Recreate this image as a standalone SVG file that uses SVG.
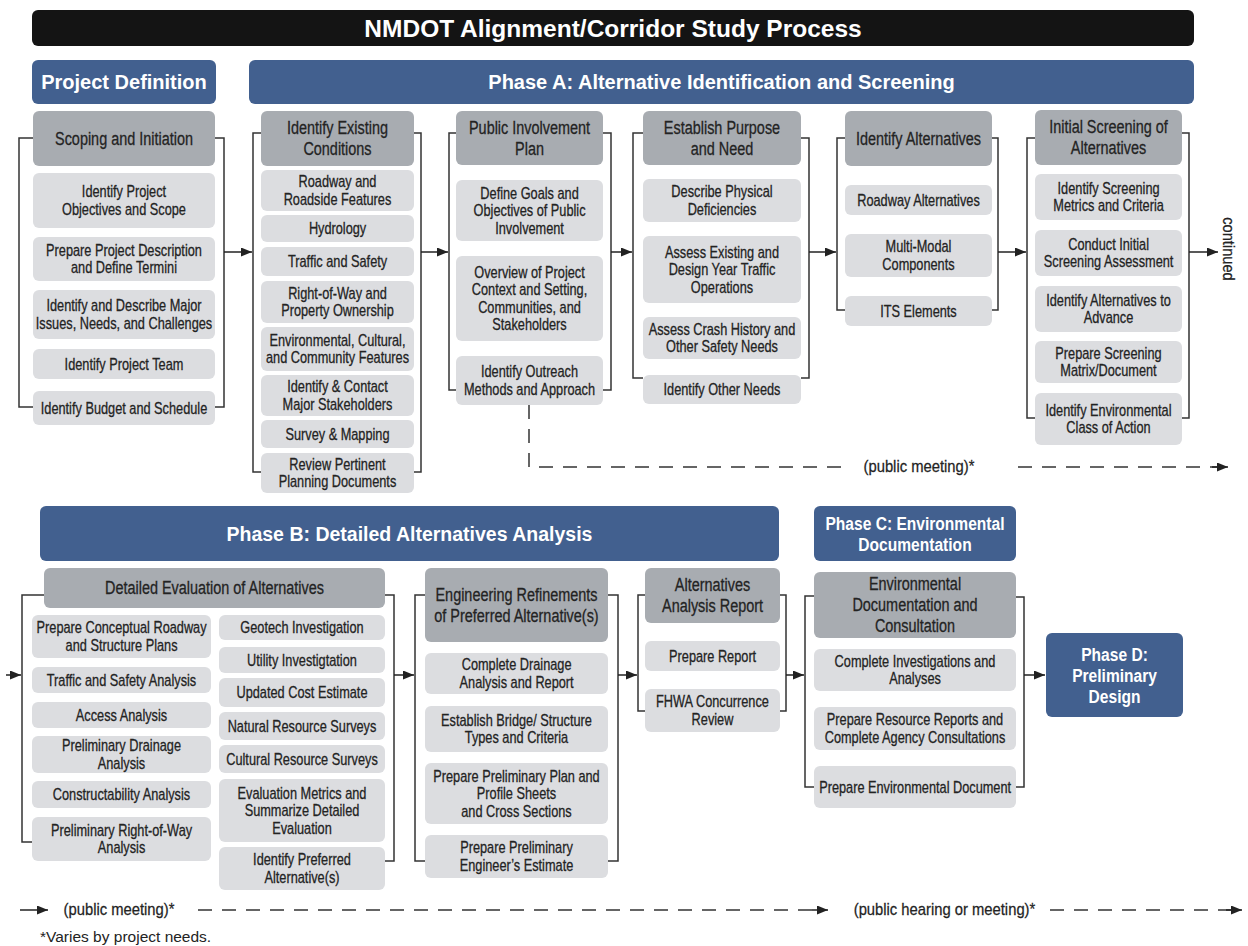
<svg xmlns="http://www.w3.org/2000/svg" width="1248" height="946" viewBox="0 0 1248 946">
<style>
.bar{fill:#141414}
.ph{fill:#42608f}
.h{fill:#a8acb1}
.i{fill:#dcdde0}
.tt{font-family:"Liberation Sans",Arial,sans-serif;font-weight:bold;fill:#fff;text-anchor:middle}
.tn{font-family:"Liberation Sans",Arial,sans-serif;font-weight:bold;fill:#fff;text-anchor:middle;transform-box:fill-box;transform-origin:center;transform:scaleX(0.82)}
.t{font-family:"Liberation Sans",Arial,sans-serif;font-size:17px;fill:#232323;stroke:#232323;stroke-width:0.3;text-anchor:middle;transform-box:fill-box;transform-origin:center;transform:scaleX(0.75)}
.ht{font-family:"Liberation Sans",Arial,sans-serif;font-size:19px;fill:#232323;stroke:#232323;stroke-width:0.3;text-anchor:middle;transform-box:fill-box;transform-origin:center;transform:scaleX(0.76)}
.lbl{font-family:"Liberation Sans",Arial,sans-serif;font-size:17px;fill:#232323;stroke:#232323;stroke-width:0.25;text-anchor:middle;transform-box:fill-box;transform-origin:center;transform:scaleX(0.87)}
.rot{font-family:"Liberation Sans",Arial,sans-serif;font-size:17px;fill:#232323;stroke:#232323;stroke-width:0.25;text-anchor:middle}
.br{fill:none;stroke:#333;stroke-width:1.5}
.ar{fill:none;stroke:#222;stroke-width:1.5;marker-end:url(#ah)}
.ds{fill:none;stroke:#333;stroke-width:1.5;stroke-dasharray:14 10}
</style>
<defs>
<marker id="ah" markerUnits="userSpaceOnUse" markerWidth="12" markerHeight="9" refX="11" refY="4.5" orient="auto">
<path d="M0,0 L11,4.5 L0,9 z" fill="#222"/>
</marker>
</defs>

<g id="title">
<rect class="bar" x="32" y="10" width="1162" height="36" rx="6"/>
<text class="tt" x="613" y="37" font-size="24.5">NMDOT Alignment/Corridor Study Process</text>
</g>

<g id="project-definition">
<rect class="ph" x="32" y="60" width="184" height="44" rx="6"/>
<text class="tt" x="124" y="89" font-size="20">Project Definition</text>
</g>
<g id="phase-a">
<rect class="ph" x="249" y="60" width="945" height="44" rx="6"/>
<text class="tt" x="721.5" y="89" font-size="20">Phase A: Alternative Identification and Screening</text>
</g>

<g id="scoping">
<rect class="h" x="33" y="111" width="182" height="55" rx="6"/>
<text class="ht" x="124" y="145">Scoping and Initiation</text>
<rect class="i" x="33" y="173" width="182" height="55" rx="6"/>
<text class="t" x="124" y="197.4">Identify Project<tspan x="124" dy="17.5">Objectives and Scope</tspan></text>
<rect class="i" x="33" y="237" width="182" height="44" rx="6"/>
<text class="t" x="124" y="255.9">Prepare Project Description<tspan x="124" dy="17.5">and Define Termini</tspan></text>
<rect class="i" x="33" y="290" width="182" height="49" rx="6"/>
<text class="t" x="124" y="311.4">Identify and Describe Major<tspan x="124" dy="17.5">Issues, Needs, and Challenges</tspan></text>
<rect class="i" x="33" y="349" width="182" height="30" rx="6"/>
<text class="t" x="124" y="369.6">Identify Project Team</text>
<rect class="i" x="33" y="391" width="182" height="34" rx="6"/>
<text class="t" x="124" y="413.6">Identify Budget and Schedule</text>
</g>

<g id="existing-conditions">
<rect class="h" x="261" y="111" width="153" height="55" rx="6"/>
<text class="ht" x="337.5" y="134.5">Identify Existing<tspan x="337.5" dy="21">Conditions</tspan></text>
<rect class="i" x="261" y="170" width="153" height="41" rx="6"/>
<text class="t" x="337.5" y="187.4">Roadway and<tspan x="337.5" dy="17.5">Roadside Features</tspan></text>
<rect class="i" x="261" y="215" width="153" height="27" rx="6"/>
<text class="t" x="337.5" y="234.1">Hydrology</text>
<rect class="i" x="261" y="247" width="153" height="29" rx="6"/>
<text class="t" x="337.5" y="267.1">Traffic and Safety</text>
<rect class="i" x="261" y="281" width="153" height="42" rx="6"/>
<text class="t" x="337.5" y="298.9">Right-of-Way and<tspan x="337.5" dy="17.5">Property Ownership</tspan></text>
<rect class="i" x="261" y="327" width="153" height="44" rx="6"/>
<text class="t" x="337.5" y="345.9">Environmental, Cultural,<tspan x="337.5" dy="17.5">and Community Features</tspan></text>
<rect class="i" x="261" y="375" width="153" height="41" rx="6"/>
<text class="t" x="337.5" y="392.4">Identify &amp; Contact<tspan x="337.5" dy="17.5">Major Stakeholders</tspan></text>
<rect class="i" x="261" y="420" width="153" height="28" rx="6"/>
<text class="t" x="337.5" y="439.6">Survey &amp; Mapping</text>
<rect class="i" x="261" y="453" width="153" height="40" rx="6"/>
<text class="t" x="337.5" y="469.9">Review Pertinent<tspan x="337.5" dy="17.5">Planning Documents</tspan></text>
</g>

<g id="public-involvement">
<rect class="h" x="456" y="111" width="147" height="54" rx="6"/>
<text class="ht" x="529.5" y="134">Public Involvement<tspan x="529.5" dy="21">Plan</tspan></text>
<rect class="i" x="456" y="180" width="147" height="61" rx="6"/>
<text class="t" x="529.5" y="198.6">Define Goals and<tspan x="529.5" dy="17.5">Objectives of Public</tspan><tspan x="529.5" dy="17.5">Involvement</tspan></text>
<rect class="i" x="456" y="256" width="147" height="85" rx="6"/>
<text class="t" x="529.5" y="277.9">Overview of Project<tspan x="529.5" dy="17.5">Context and Setting,</tspan><tspan x="529.5" dy="17.5">Communities, and</tspan><tspan x="529.5" dy="17.5">Stakeholders</tspan></text>
<rect class="i" x="456" y="356" width="147" height="49" rx="6"/>
<text class="t" x="529.5" y="377.4">Identify Outreach<tspan x="529.5" dy="17.5">Methods and Approach</tspan></text>
</g>

<g id="purpose-need">
<rect class="h" x="643" y="111" width="158" height="54" rx="6"/>
<text class="ht" x="722" y="134">Establish Purpose<tspan x="722" dy="21">and Need</tspan></text>
<rect class="i" x="643" y="179" width="158" height="43" rx="6"/>
<text class="t" x="722" y="197.4">Describe Physical<tspan x="722" dy="17.5">Deficiencies</tspan></text>
<rect class="i" x="643" y="236" width="158" height="67" rx="6"/>
<text class="t" x="722" y="257.6">Assess Existing and<tspan x="722" dy="17.5">Design Year Traffic</tspan><tspan x="722" dy="17.5">Operations</tspan></text>
<rect class="i" x="643" y="317" width="158" height="42" rx="6"/>
<text class="t" x="722" y="334.9">Assess Crash History and<tspan x="722" dy="17.5">Other Safety Needs</tspan></text>
<rect class="i" x="643" y="375" width="158" height="29" rx="6"/>
<text class="t" x="722" y="395.1">Identify Other Needs</text>
</g>

<g id="identify-alternatives">
<rect class="h" x="845" y="111" width="147" height="55" rx="6"/>
<text class="ht" x="918.5" y="145">Identify Alternatives</text>
<rect class="i" x="845" y="185" width="147" height="30" rx="6"/>
<text class="t" x="918.5" y="205.6">Roadway Alternatives</text>
<rect class="i" x="845" y="234" width="147" height="43" rx="6"/>
<text class="t" x="918.5" y="252.4">Multi-Modal<tspan x="918.5" dy="17.5">Components</tspan></text>
<rect class="i" x="845" y="296" width="147" height="30" rx="6"/>
<text class="t" x="918.5" y="316.6">ITS Elements</text>
</g>

<g id="initial-screening">
<rect class="h" x="1035" y="110" width="147" height="55" rx="6"/>
<text class="ht" x="1108.5" y="133.5">Initial Screening of<tspan x="1108.5" dy="21">Alternatives</tspan></text>
<rect class="i" x="1035" y="174" width="147" height="46" rx="6"/>
<text class="t" x="1108.5" y="193.9">Identify Screening<tspan x="1108.5" dy="17.5">Metrics and Criteria</tspan></text>
<rect class="i" x="1035" y="230" width="147" height="46" rx="6"/>
<text class="t" x="1108.5" y="249.9">Conduct Initial<tspan x="1108.5" dy="17.5">Screening Assessment</tspan></text>
<rect class="i" x="1035" y="286" width="147" height="46" rx="6"/>
<text class="t" x="1108.5" y="305.9">Identify Alternatives to<tspan x="1108.5" dy="17.5">Advance</tspan></text>
<rect class="i" x="1035" y="341" width="147" height="42" rx="6"/>
<text class="t" x="1108.5" y="358.9">Prepare Screening<tspan x="1108.5" dy="17.5">Matrix/Document</tspan></text>
<rect class="i" x="1035" y="393" width="147" height="52" rx="6"/>
<text class="t" x="1108.5" y="415.9">Identify Environmental<tspan x="1108.5" dy="17.5">Class of Action</tspan></text>
</g>

<g id="continued">
<text class="rot" transform="translate(1223,249) rotate(90) scale(0.86,1)">continued</text>
</g>

<g id="phase-b">
<rect class="ph" x="40" y="506" width="739" height="55" rx="6"/>
<text class="tt" x="409.5" y="540.5" font-size="19.5">Phase B: Detailed Alternatives Analysis</text>
</g>
<g id="phase-c">
<rect class="ph" x="814" y="506" width="202" height="55" rx="6"/>
<text class="tn" x="915" y="530" font-size="19">Phase C: Environmental<tspan x="915" dy="21">Documentation</tspan></text>
</g>

<g id="detailed-evaluation">
<rect class="h" x="44" y="568" width="341" height="40" rx="6"/>
<text class="ht" x="214.5" y="594.5">Detailed Evaluation of Alternatives</text>
<rect class="i" x="32" y="615" width="179" height="43" rx="6"/>
<text class="t" x="121.5" y="633.4">Prepare Conceptual Roadway<tspan x="121.5" dy="17.5">and Structure Plans</tspan></text>
<rect class="i" x="32" y="667" width="179" height="26" rx="6"/>
<text class="t" x="121.5" y="685.6">Traffic and Safety Analysis</text>
<rect class="i" x="32" y="702" width="179" height="26" rx="6"/>
<text class="t" x="121.5" y="720.6">Access Analysis</text>
<rect class="i" x="32" y="736" width="179" height="37" rx="6"/>
<text class="t" x="121.5" y="751.4">Preliminary Drainage<tspan x="121.5" dy="17.5">Analysis</tspan></text>
<rect class="i" x="32" y="781" width="179" height="27" rx="6"/>
<text class="t" x="121.5" y="800.1">Constructability Analysis</text>
<rect class="i" x="32" y="817" width="179" height="44" rx="6"/>
<text class="t" x="121.5" y="835.9">Preliminary Right-of-Way<tspan x="121.5" dy="17.5">Analysis</tspan></text>
<rect class="i" x="219" y="615" width="166" height="25" rx="6"/>
<text class="t" x="302" y="633.1">Geotech Investigation</text>
<rect class="i" x="219" y="647" width="166" height="26" rx="6"/>
<text class="t" x="302" y="665.6">Utility Investigtation</text>
<rect class="i" x="219" y="678" width="166" height="29" rx="6"/>
<text class="t" x="302" y="698.1">Updated Cost Estimate</text>
<rect class="i" x="219" y="712" width="166" height="28" rx="6"/>
<text class="t" x="302" y="731.6">Natural Resource Surveys</text>
<rect class="i" x="219" y="745" width="166" height="28" rx="6"/>
<text class="t" x="302" y="764.6">Cultural Resource Surveys</text>
<rect class="i" x="219" y="779" width="166" height="63" rx="6"/>
<text class="t" x="302" y="798.6">Evaluation Metrics and<tspan x="302" dy="17.5">Summarize Detailed</tspan><tspan x="302" dy="17.5">Evaluation</tspan></text>
<rect class="i" x="219" y="847" width="166" height="43" rx="6"/>
<text class="t" x="302" y="865.4">Identify Preferred<tspan x="302" dy="17.5">Alternative(s)</tspan></text>
</g>

<g id="engineering-refinements">
<rect class="h" x="425" y="568" width="183" height="74" rx="6"/>
<text class="ht" x="516.5" y="601">Engineering Refinements<tspan x="516.5" dy="21">of Preferred Alternative(s)</tspan></text>
<rect class="i" x="425" y="653" width="183" height="41" rx="6"/>
<text class="t" x="516.5" y="670.4">Complete Drainage<tspan x="516.5" dy="17.5">Analysis and Report</tspan></text>
<rect class="i" x="425" y="706" width="183" height="46" rx="6"/>
<text class="t" x="516.5" y="725.9">Establish Bridge/ Structure<tspan x="516.5" dy="17.5">Types and Criteria</tspan></text>
<rect class="i" x="425" y="763" width="183" height="61" rx="6"/>
<text class="t" x="516.5" y="781.6">Prepare Preliminary Plan and<tspan x="516.5" dy="17.5">Profile Sheets</tspan><tspan x="516.5" dy="17.5">and Cross Sections</tspan></text>
<rect class="i" x="425" y="835" width="183" height="43" rx="6"/>
<text class="t" x="516.5" y="853.4">Prepare Preliminary<tspan x="516.5" dy="17.5">Engineer’s Estimate</tspan></text>
</g>

<g id="alternatives-report">
<rect class="h" x="645" y="568" width="135" height="55" rx="6"/>
<text class="ht" x="712.5" y="591.5">Alternatives<tspan x="712.5" dy="21">Analysis Report</tspan></text>
<rect class="i" x="645" y="641" width="135" height="30" rx="6"/>
<text class="t" x="712.5" y="661.6">Prepare Report</text>
<rect class="i" x="645" y="689" width="135" height="43" rx="6"/>
<text class="t" x="712.5" y="707.4">FHWA Concurrence<tspan x="712.5" dy="17.5">Review</tspan></text>
</g>

<g id="environmental-documentation">
<rect class="h" x="814" y="572" width="202" height="66" rx="6"/>
<text class="ht" x="915" y="590.5">Environmental<tspan x="915" dy="21">Documentation and</tspan><tspan x="915" dy="21">Consultation</tspan></text>
<rect class="i" x="814" y="649" width="202" height="42" rx="6"/>
<text class="t" x="915" y="666.9">Complete Investigations and<tspan x="915" dy="17.5">Analyses</tspan></text>
<rect class="i" x="814" y="707" width="202" height="43" rx="6"/>
<text class="t" x="915" y="725.4">Prepare Resource Reports and<tspan x="915" dy="17.5">Complete Agency Consultations</tspan></text>
<rect class="i" x="814" y="766" width="202" height="42" rx="6"/>
<text class="t" x="915" y="792.6">Prepare Environmental Document</text>
</g>

<g id="phase-d">
<rect class="ph" x="1046" y="633" width="137" height="84" rx="6"/>
<text class="tn" x="1114.5" y="661" font-size="19">Phase D:<tspan x="1114.5" dy="21">Preliminary</tspan><tspan x="1114.5" dy="21">Design</tspan></text>
</g>

<g id="connectors">
<path class="br" d="M33,138 H19 V407 H33"/>
<path class="br" d="M215,138 H224 V407 H215"/>
<path class="br" d="M261,133 H253 V472 H261"/>
<path class="br" d="M414,133 H421 V472 H414"/>
<path class="br" d="M456,133 H449 V390 H456"/>
<path class="br" d="M603,133 H611 V390 H603"/>
<path class="br" d="M643,133 H633 V378 H643"/>
<path class="br" d="M801,138 H809 V378 H801"/>
<path class="br" d="M845,138 H837 V310 H845"/>
<path class="br" d="M992,138 H998 V310 H992"/>
<path class="br" d="M1035,138 H1027 V418 H1035"/>
<path class="br" d="M1182,133 H1189 V418 H1182"/>
<path class="br" d="M44,595 H22 V842 H32"/>
<path class="br" d="M385,595 H394 V861 H385"/>
<path class="br" d="M425,595 H415 V861 H425"/>
<path class="br" d="M608,595 H618 V861 H608"/>
<path class="br" d="M645,595 H638 V711 H645"/>
<path class="br" d="M780,595 H786 V711 H780"/>
<path class="br" d="M814,596 H805 V787 H814"/>
<path class="br" d="M1016,597 H1024 V787 H1016"/>
<line class="ar" x1="224" y1="252" x2="252" y2="252"/>
<line class="ar" x1="421" y1="252" x2="448" y2="252"/>
<line class="ar" x1="611" y1="252" x2="632" y2="252"/>
<line class="ar" x1="809" y1="252" x2="836" y2="252"/>
<line class="ar" x1="998" y1="252" x2="1026" y2="252"/>
<line class="ar" x1="1189" y1="252" x2="1218" y2="252"/>
<line class="ar" x1="6" y1="675" x2="21" y2="675"/>
<line class="ar" x1="394" y1="675" x2="414" y2="675"/>
<line class="ar" x1="618" y1="675" x2="637" y2="675"/>
<line class="ar" x1="786" y1="675" x2="804" y2="675"/>
<line class="ar" x1="1024" y1="675" x2="1045" y2="675"/>
<path class="ds" d="M529,405 V467 H848"/>
<line class="ds" x1="1018" y1="467" x2="1220" y2="467"/>
<line class="ar" x1="1212" y1="467" x2="1228" y2="467"/>
<line class="ar" x1="20" y1="910" x2="48" y2="910"/>
<line class="ds" x1="198" y1="910" x2="818" y2="910"/>
<line class="ar" x1="812" y1="910" x2="828" y2="910"/>
<line class="ds" x1="1050" y1="910" x2="1232" y2="910"/>
<line class="ar" x1="1226" y1="910" x2="1242" y2="910"/>
</g>

<g id="labels">
<text class="lbl" x="919" y="472">(public meeting)*</text>
<text class="lbl" x="119" y="915">(public meeting)*</text>
<text class="lbl" x="944.5" y="915">(public hearing or meeting)*</text>
<text x="40" y="942" font-family="Liberation Sans, Arial, sans-serif" font-size="15.5" fill="#232323">*Varies by project needs.</text>
</g>
</svg>
